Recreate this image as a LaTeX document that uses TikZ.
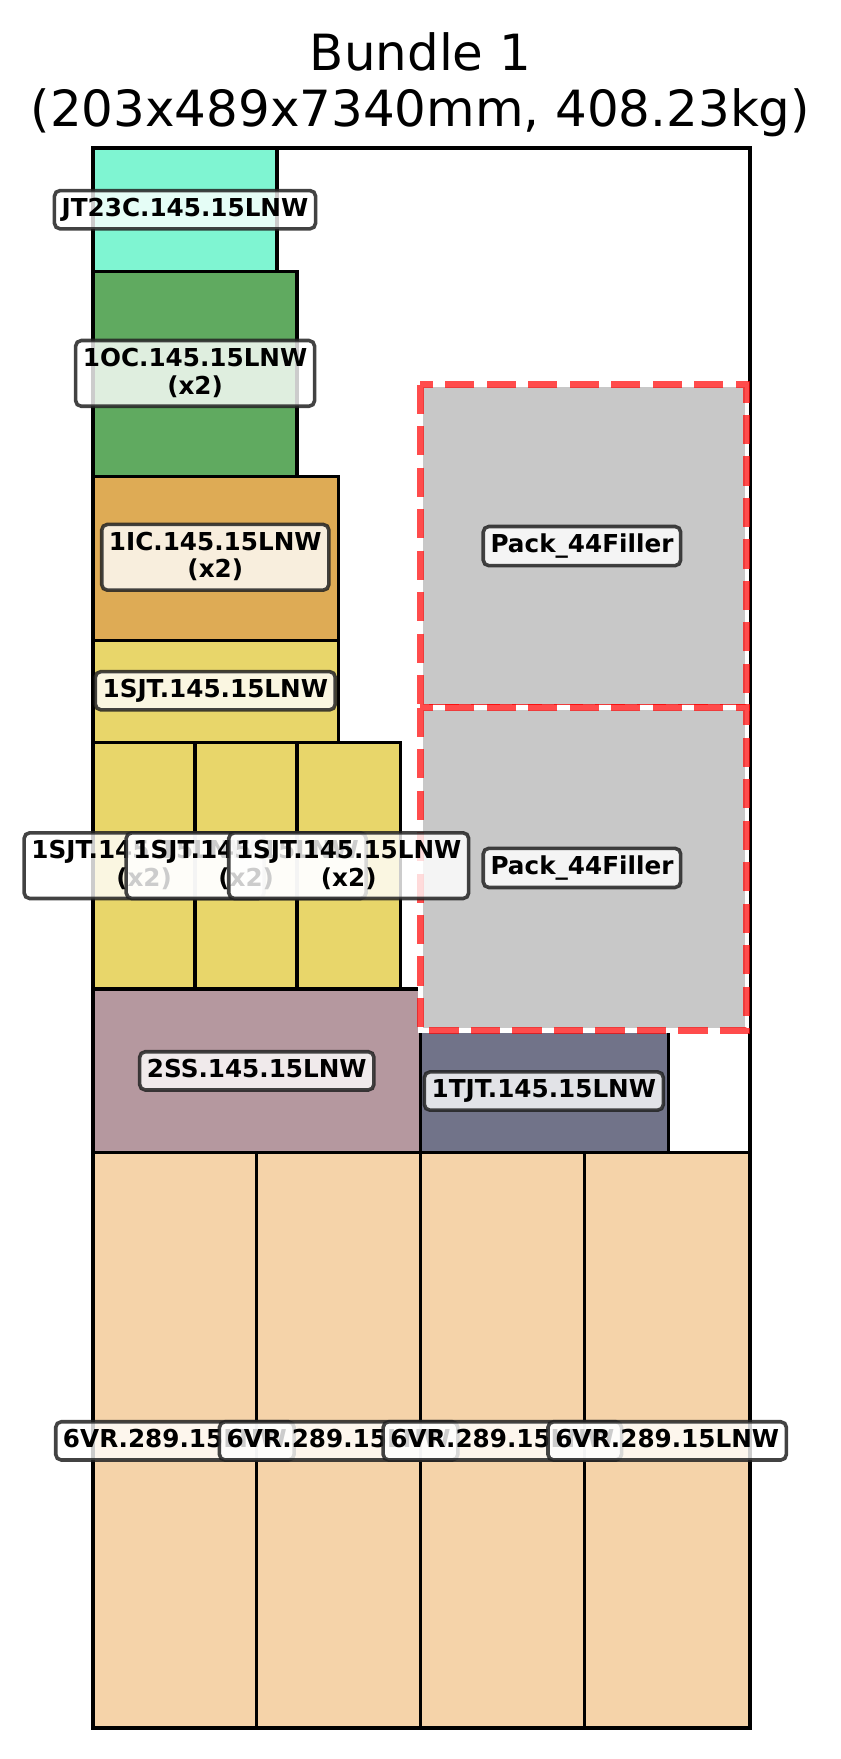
\documentclass[tikz,border=0pt]{standalone}
\usepackage{fontspec}
\setmainfont{DejaVu Sans}
\definecolor{cJT}{HTML}{7FF5D2}
\definecolor{cOC}{HTML}{60AA60}
\definecolor{cIC}{HTML}{DEAB55}
\definecolor{cSJT}{HTML}{E8D66A}
\definecolor{cSS}{HTML}{B5989F}
\definecolor{cTJT}{HTML}{717389}
\definecolor{cVR}{HTML}{F5D3A9}
\definecolor{cFill}{HTML}{C8C8C8}
\definecolor{cEdge}{HTML}{222222}
\newcommand\lstrut{\rule[-0.2em]{0pt}{0.96em}}
\tikzset{
  box/.style={draw=black, line width=3pt},
  lbl/.style={draw=cEdge, draw opacity=0.85, fill=white, fill opacity=0.8, text opacity=1,
    line width=3.2pt, rounded corners=5pt, inner sep=6.5pt, align=center,
    font=\bfseries\fontsize{22}{24.5}\selectfont},
  fillerbox/.style={fill=cFill, draw=white, line width=4pt},
  fillerdash/.style={draw=red, draw opacity=0.7, line width=6pt, dash pattern=on 26pt off 11pt},
  ttl/.style={anchor=base, font=\fontsize{44.5}{50}\selectfont, inner sep=0pt}
}
\begin{document}
\begin{tikzpicture}[x=1pt,y=-1pt]
\useasboundingbox (0,0) rectangle (750,1568.7);
% title
\node[ttl] (t1) at (375,63) {Bundle 1};
\node[ttl] (t2) at (375,113) {(203x489x7340mm, 408.23kg)};
% container
\draw[box] (83,132) rectangle (669,1541);
% items
\draw[box, fill=cJT] (83,132) rectangle (247,242);
\draw[box, fill=cOC] (83,242) rectangle (265,425);
\draw[box, fill=cIC] (83,425) rectangle (302,571);
\draw[box, fill=cSJT] (83,571) rectangle (302,662);
\draw[box, fill=cSJT] (83,662) rectangle (174,882);
\draw[box, fill=cSJT] (174,662) rectangle (265,882);
\draw[box, fill=cSJT] (265,662) rectangle (357,882);
\draw[box, fill=cSS] (83,882) rectangle (375,1028);
\draw[box, fill=cTJT] (375,919) rectangle (596,1028);
\draw[box, fill=cVR] (83,1028) rectangle (229,1541);
\draw[box, fill=cVR] (229,1028) rectangle (375,1541);
\draw[box, fill=cVR] (375,1028) rectangle (521,1541);
\draw[box, fill=cVR] (521,1028) rectangle (669,1541);
% fillers
\draw[fillerbox] (375,343) rectangle (666,631);
\draw[fillerdash] (375,343) rectangle (666,631);
\draw[fillerbox] (375,631) rectangle (666,919);
\draw[fillerdash] (375,631) rectangle (666,919);
% labels
\node[lbl] (lJT) at (165,187) {\lstrut JT23C.145.15LNW};
\node[lbl] (lOC) at (174,333) {\lstrut 1OC.145.15LNW\\\lstrut (x2)};
\node[lbl] (lIC) at (192,497) {\lstrut 1IC.145.15LNW\\\lstrut (x2)};
\node[lbl] (lSJT) at (192,616) {\lstrut 1SJT.145.15LNW};
\node[lbl] (lSJTa) at (128.5,772) {\lstrut 1SJT.145.15LNW\\\lstrut (x2)};
\node[lbl] (lSJTb) at (219.5,772) {\lstrut 1SJT.145.15LNW\\\lstrut (x2)};
\node[lbl] (lSJTc) at (311,772) {\lstrut 1SJT.145.15LNW\\\lstrut (x2)};
\node[lbl] (lSS) at (229,955) {\lstrut 2SS.145.15LNW};
\node[lbl] (lTJT) at (485,973) {\lstrut 1TJT.145.15LNW};
\node[lbl] (lVRa) at (156,1285) {\lstrut 6VR.289.15LNW};
\node[lbl] (lVRb) at (302,1285) {\lstrut 6VR.289.15LNW};
\node[lbl] (lVRc) at (448,1285) {\lstrut 6VR.289.15LNW};
\node[lbl] (lVRd) at (595,1285) {\lstrut 6VR.289.15LNW};
\node[lbl] (lP1) at (519,487) {\lstrut Pack\_44Filler};
\node[lbl] (lP2) at (519,774) {\lstrut Pack\_44Filler};
\end{tikzpicture}
\end{document}
